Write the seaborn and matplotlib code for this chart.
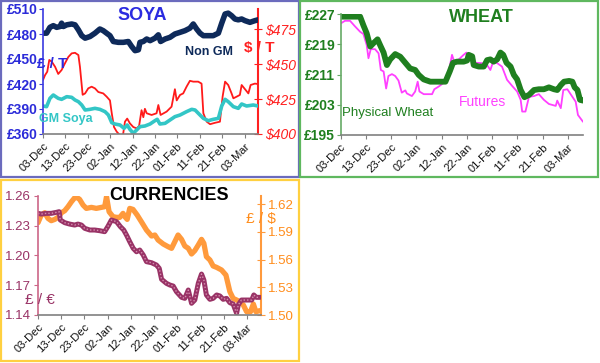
import matplotlib
matplotlib.use("Agg")
import matplotlib.pyplot as plt
from matplotlib.patches import Rectangle
import seaborn as sns

sns.set_style("white")
plt.rcParams['font.family'] = ['Liberation Sans', 'DejaVu Sans']

# ---------------- data ----------------
date_ticks = [0, 10, 20, 30, 40, 50, 60, 70, 80, 90]
date_labels = ["03-Dec", "13-Dec", "23-Dec", "02-Jan", "12-Jan",
               "22-Jan", "01-Feb", "11-Feb", "21-Feb", "03-Mar"]

# SOYA  (days after 03-Dec)
nongm_days = [0, 1.6, 3.1, 4.6, 6.1, 7.6, 8.3, 9.1, 10.6, 12.8,
              14.3, 15.8, 17.3, 18.8, 21.0, 23.2, 25.4, 26.9, 28.4, 29.9,
              31.4, 33.6, 35.9, 38.1, 39.6, 41.1, 42.6, 43.3, 44.8, 46.3,
              47.8, 50.0, 51.5, 52.5, 54.5, 56.7, 58.9, 61.2, 63.4, 65.6,
              67.1, 68.6, 70.1, 71.6, 73.8, 76.0, 78.3, 79.8, 81.3, 82.7,
              84.2, 85.7, 87.2, 88.7, 90.2, 92.4, 94.6, 96]
nongm_gbp = [481, 481, 488, 490, 488, 489, 493, 489, 491, 492,
             491, 485, 478, 475, 477, 481, 486, 484, 481, 478,
             471, 470, 470, 471, 465, 460, 461, 470, 471, 474,
             472, 475, 479, 471, 474, 476, 480, 482, 484, 487,
             492, 486, 481, 478, 478, 478, 481, 493, 504, 505,
             502, 498, 497, 498, 496, 494, 496, 497]

usd_days = [0, 0.9, 1.9, 2.8, 3.9, 5.4, 6.8, 8.3, 9.8, 11.3,
            12.8, 14.3, 15.8, 16.5, 17.7, 18.8, 20.2, 21.7, 23.2, 24.7,
            26.9, 28.4, 29.9, 30.7, 31.7, 32.9, 34.4, 35.6, 36.6, 37.6,
            38.8, 40.3, 41.8, 42.9, 44.0, 44.8, 45.5, 46.3, 48.5, 50.7,
            51.5, 52.5, 55.2, 57.4, 58.9, 59.7, 61.2, 62.6, 64.1, 65.6,
            67.1, 69.3, 70.8, 71.6, 73.1, 74.6, 76.8, 79.0, 80.2, 81.3,
            82.7, 84.2, 85.0, 86.5, 87.9, 88.7, 90.2, 91.7, 92.7, 94.6, 96.0]
usd_per_t = [438.6, 442, 444.5, 452.9, 451.7, 448, 442.9, 445.7, 450.5, 455,
             457.6, 458, 456.4, 448, 428, 429, 432.6, 433.8, 432.6, 430,
             429, 426.7, 424, 414.8, 405, 401.7, 399, 398, 408.8, 411,
             407.6, 405, 404, 405.7, 417, 412, 418, 414.8, 413.6, 414.8,
             420.7, 413.6, 416, 419.5, 432, 424, 427.9, 429, 433.8, 438,
             437.4, 437.4, 436, 414.8, 408.8, 407, 408, 408.8, 426.7, 437.4,
             435, 429, 425.5, 426.7, 427.9, 435, 432, 429, 435, 436, 435.7]

gm_days = [0, 1.6, 3.1, 4.6, 6.8, 8.3, 10.6, 12.8, 14.3, 15.8,
           17.3, 18.8, 21.0, 23.2, 25.4, 27.7, 29.2, 30.7, 32.1, 34.4,
           36.2, 37.6, 38.8, 40.3, 41.8, 43.3, 45.5, 47.8, 50.0, 51.0,
           52.2, 54.5, 56.7, 58.9, 61.2, 64.1, 66.4, 67.9, 70.1, 71.6,
           73.8, 76.0, 78.3, 79.8, 81.3, 82.7, 85.0, 87.2, 88.7, 90.9,
           93.9, 96.0]
gm_gbp = [393.6, 392.8, 402.8, 406.8, 402.8, 401.6, 404.8, 404, 400.8, 398.8,
          394.8, 388.8, 389.6, 390.8, 389.6, 386.8, 382.8, 373.6, 372, 370.8,
          366.8, 370.8, 365.6, 360.8, 364.8, 368.8, 369.6, 372, 376, 377.6,
          372, 372.8, 376.8, 380.8, 382.8, 386.8, 389.6, 388.8, 382.8, 378.8,
          376, 377.6, 378.8, 393.6, 401.6, 398.8, 392.8, 390.8, 396, 393.6,
          394.8, 393.6]

# WHEAT
phys_days = [0, 3.7, 7.7, 9.0, 10.3, 11.7, 13.0, 14.6, 15.6, 17.0,
             18.3, 19.6, 21.6, 23.6, 25.6, 27.5, 29.5, 30.9, 32.9, 35.5,
             38.1, 41.5, 43.2, 44.5, 46.1, 48.7, 50.1, 50.7, 52.1, 52.7,
             54.7, 56.7, 58.0, 59.3, 60.6, 62.0, 63.3, 64.4, 65.7, 67.3,
             68.6, 69.9, 71.3, 72.8, 74.6, 76.6, 78.5, 80.5, 82.5, 84.5,
             85.8, 87.2, 88.5, 90.5, 91.8, 92.7, 93.8, 94.8, 96]
phys_wheat = [226.3, 226.3, 226.3, 224, 221.9, 218.4, 219.3, 220.3, 218.8, 216.8,
              213.5, 215, 216.4, 215.7, 214.1, 212.6, 212.2, 210.9, 209.7, 209.1,
              209.1, 209.1, 211.8, 214.1, 214.4, 214.4, 214.7, 216.2, 215.8, 213.5,
              213.1, 213.1, 214.8, 215, 214.4, 215, 216.8, 216.2, 214.1, 213.1,
              210.9, 209.7, 206.9, 205, 205.6, 206.9, 207.1, 207.1, 207.6, 207.1,
              206.9, 208.2, 209.1, 209.3, 209.1, 207.6, 206.9, 204.3, 204.1]

fut_days = [0, 1.7, 3.7, 5.7, 7.7, 9.0, 10.3, 11.0, 11.9, 13.6,
            15.0, 15.9, 17.0, 18.0, 18.9, 20.3, 21.6, 22.9, 24.2, 25.6,
            26.2, 28.2, 29.5, 30.5, 31.2, 32.9, 36.2, 37.1, 38.8, 40.8,
            42.1, 43.2, 44.1, 45.0, 46.8, 48.7, 49.8, 51.4, 53.4, 56.0,
            58.0, 59.3, 60.4, 62.0, 63.9, 65.9, 67.9, 69.9, 71.3, 71.9,
            73.2, 74.6, 76.6, 78.5, 80.5, 82.5, 85.2, 85.8, 87.2, 88.2,
            89.8, 91.8, 93.1, 94.0, 96.0]
futures = [224.5, 225.2, 225.2, 223.7, 222.3, 221.7, 218.8, 215.3, 217.7, 217.7,
           216.6, 212.2, 211.8, 207.3, 210.6, 211.1, 210.6, 209.4, 206.2, 206.8,
           206, 205.3, 206.5, 209.1, 206.5, 205.8, 205.8, 207.1, 207.8, 208.8,
           210.4, 213.1, 216.2, 214.4, 215, 216.2, 216.8, 215, 214.1, 214,
           213.5, 212.2, 214.4, 214, 213.1, 209.6, 208, 206.5, 204.3, 201.2,
           201.2, 205.1, 205.3, 205.8, 204.3, 203.2, 202.7, 204.1, 202.1, 206.9,
           207.1, 205.1, 203.8, 200.3, 198.5]

# CURRENCIES
eur_days = [0, 1.4, 3.6, 5.7, 7.9, 9.1, 9.6, 11.5, 13.6, 15.8,
            17.2, 18.7, 20.1, 22.3, 24.4, 26.6, 28.7, 30.2, 31.6, 33.8,
            35.5, 36.9, 38.1, 39.5, 41.0, 42.4, 43.8, 45.3, 46.7, 48.9,
            51.0, 52.2, 53.2, 55.3, 56.8, 58.2, 59.6, 61.8, 63.2, 64.7,
            66.1, 67.5, 69.0, 70.4, 71.4, 72.5, 74.0, 75.4, 76.9, 78.3,
            79.7, 81.2, 82.6, 84.0, 85.5, 86.2, 87.6, 89.8, 92.0, 92.9,
            94.0, 95.5]
gbp_eur = [1.2425, 1.2418, 1.2425, 1.2425, 1.2435, 1.2442, 1.2358, 1.2331, 1.2317, 1.2307,
           1.2317, 1.2307, 1.2274, 1.2257, 1.2257, 1.225, 1.224, 1.2297, 1.2358, 1.2341,
           1.229, 1.2257, 1.2206, 1.2139, 1.2072, 1.2038, 1.2055, 1.2005, 1.1938, 1.1927,
           1.1904, 1.187, 1.176, 1.1719, 1.1702, 1.1692, 1.1635, 1.1578, 1.1568, 1.1652,
           1.1518, 1.1551, 1.1719, 1.1813, 1.1753, 1.1602, 1.1558, 1.1568, 1.1602, 1.1592,
           1.1558, 1.1568, 1.1524, 1.1511, 1.1417, 1.1501, 1.1551, 1.1551, 1.1551, 1.1602,
           1.1578, 1.1578]

usd_fx_days = [0, 1.4, 2.9, 4.3, 5.7, 7.2, 8.6, 10.1, 11.5, 12.9,
               14.4, 16.2, 17.9, 19.4, 20.8, 23.0, 25.1, 27.3, 28.7, 29.5,
               30.6, 32.3, 33.8, 35.2, 36.6, 37.4, 38.4, 39.5, 40.9, 42.7,
               44.5, 46.7, 48.9, 50.3, 51.7, 53.9, 56.0, 57.5, 58.9, 60.3,
               61.8, 63.2, 64.7, 66.1, 67.5, 69.0, 70.4, 71.4, 72.5, 74.0,
               75.4, 76.9, 79.0, 80.9, 82.6, 84.0, 85.5, 86.9, 88.4, 89.8,
               91.5, 92.7, 93.8, 95.5]
gbp_usd = [1.5998, 1.6081, 1.6106, 1.6045, 1.602, 1.6034, 1.6056, 1.6106, 1.6128, 1.6171,
           1.6225, 1.628, 1.6251, 1.6189, 1.6153, 1.6164, 1.6153, 1.6164, 1.6171, 1.628,
           1.6117, 1.6063, 1.6056, 1.6056, 1.6099, 1.6063, 1.6034, 1.6153, 1.6142, 1.6081,
           1.6009, 1.5919, 1.5854, 1.5865, 1.5811, 1.5768, 1.5739, 1.5721, 1.5793, 1.5865,
           1.5818, 1.5746, 1.5721, 1.566, 1.5696, 1.5757, 1.5818, 1.5775, 1.5631, 1.5595,
           1.553, 1.5515, 1.5487, 1.5432, 1.5252, 1.518, 1.5162, 1.5144, 1.5108, 1.5036,
           1.5036, 1.5119, 1.5036, 1.5047]

soya_left_ticks = [360, 390, 420, 450, 480, 510]
soya_right_ticks = [400, 425, 450, 475]
wheat_ticks = [195, 203, 211, 219, 227]
eur_ticks = [1.14, 1.17, 1.20, 1.23, 1.26]
usd_ticks = [1.50, 1.53, 1.56, 1.59, 1.62]

# ---------------- figure ----------------
W, H = 600, 363
fig = plt.figure(figsize=(6.0, 3.63), dpi=100)
fig.patch.set_facecolor("white")


def px_axes(x0, y0, x1, y1):
    return fig.add_axes([x0 / W, 1 - y1 / H, (x1 - x0) / W, (y1 - y0) / H])


def ftext(x, y, s, **kw):
    fig.text(x / W, 1 - y / H, s, ha="center", va="center", **kw)


def box(x0, y0, x1, y1, color):
    fig.add_artist(Rectangle((x0 / W, 1 - y1 / H), (x1 - x0) / W, (y1 - y0) / H,
                             transform=fig.transFigure, fill=False,
                             edgecolor=color, linewidth=1.6))


def style_dates(ax):
    ax.set_xlim(0, 96)
    ax.set_xticks(date_ticks)
    ax.set_xticklabels(date_labels, rotation=45, ha="right",
                       rotation_mode="anchor", fontsize=8, color="#111111")
    ax.tick_params(axis="x", direction="out", length=3, color="#808080",
                   bottom=True, pad=2)
    ax.spines["bottom"].set_color("#808080")
    ax.spines["bottom"].set_linewidth(1.2)
    ax.spines["top"].set_visible(False)
    ax.set_xlabel("")
    ax.set_ylabel("")


# ---- SOYA ----
box(0.8, 0.8, 299, 177, "#6b6bbd")
ax = px_axes(43, 9, 258, 134)
ax.set_facecolor("none")
sns.lineplot(x=gm_days, y=gm_gbp, ax=ax, color="#33c6c6", linewidth=2.6)
sns.lineplot(x=nongm_days, y=nongm_gbp, ax=ax, color="#0e2a5a", linewidth=4.0)
ax.set_ylim(360, 510)
ax.set_yticks(soya_left_ticks)
ax.set_yticklabels([f"£{v}" for v in soya_left_ticks], fontsize=10,
                   fontweight="bold", color="#2b2bd9")
ax.tick_params(axis="y", direction="out", length=3, color="#3a3ae0", left=True, pad=1)
ax.spines["left"].set_color("#3a3ae0")
ax.spines["left"].set_linewidth(1.2)
ax.spines["right"].set_visible(False)
style_dates(ax)
ax2 = ax.twinx()
sns.lineplot(x=usd_days, y=usd_per_t, ax=ax2, color="#ff1a1a", linewidth=1.3)
ax2.set_ylim(400, 489.3)
ax2.set_yticks(soya_right_ticks)
ax2.set_yticklabels([f"${v}" for v in soya_right_ticks], fontsize=10,
                    fontstyle="italic", color="#ff2020")
ax2.tick_params(axis="y", direction="inout", length=6, color="#ff2020", right=True, pad=2)
for s in ["left", "top", "bottom"]:
    ax2.spines[s].set_visible(False)
ax2.spines["right"].set_color("#ff2020")
ax2.spines["right"].set_linewidth(1.5)
ax2.set_ylabel("")
ax.set_zorder(ax2.get_zorder() + 1)

ftext(142, 15, "SOYA", fontsize=13, fontweight="bold", color="#2b2be0")
ftext(209, 52, "Non GM", fontsize=9, fontweight="bold", color="#0e2a5a")
ftext(66, 119, "GM Soya", fontsize=9, fontweight="bold", color="#33c6c6")
ftext(259, 48, "$ / T", fontsize=11, fontweight="bold", color="#ff2020")
ftext(52, 64, "£ / T", fontsize=11, fontweight="bold", color="#2b2be0")

# ---- WHEAT ----
box(300, 0.8, 598, 177, "#5fb85f")
axw = px_axes(340.7, 14, 583, 135)
sns.lineplot(x=fut_days, y=futures, ax=axw, color="#ff40ff", linewidth=1.3)
sns.lineplot(x=phys_days, y=phys_wheat, ax=axw, color="#1f7f1f", linewidth=4.2)
axw.set_ylim(195, 227)
axw.set_yticks(wheat_ticks)
axw.set_yticklabels([f"£{v}" for v in wheat_ticks], fontsize=10,
                    fontweight="bold", color="#1f7f1f")
axw.tick_params(axis="y", direction="out", length=3, color="#66aa66", left=True, pad=1)
axw.spines["left"].set_color("#66aa66")
axw.spines["left"].set_linewidth(1.2)
axw.spines["right"].set_visible(False)
style_dates(axw)

ftext(481, 17, "WHEAT", fontsize=13, fontweight="bold", color="#1f7f1f")
ftext(388, 113, "Physical Wheat", fontsize=9.5, color="#1f7f1f")
ftext(482, 102, "Futures", fontsize=10, color="#ff40ff")

# ---- CURRENCIES ----
box(0.8, 180, 299, 361, "#ffd040")
axc = px_axes(38, 196, 261, 315)
axc.set_facecolor("none")
sns.lineplot(x=eur_days, y=gbp_eur, ax=axc, color="#993366", linewidth=3.6)
sns.lineplot(x=eur_days, y=gbp_eur, ax=axc, color="#d68fb0", linewidth=1.0,
             linestyle=(0, (1, 1.5)))
axc.set_ylim(1.14, 1.26)
axc.set_yticks(eur_ticks)
axc.set_yticklabels([f"{v:.2f}" for v in eur_ticks], fontsize=9.5, color="#993366")
axc.tick_params(axis="y", direction="out", length=3, color="#cc6688", left=True, pad=2)
axc.spines["left"].set_color("#cc6688")
axc.spines["left"].set_linewidth(1.2)
axc.spines["right"].set_visible(False)
style_dates(axc)
axc2 = axc.twinx()
sns.lineplot(x=usd_fx_days, y=gbp_usd, ax=axc2, color="#ff9a3c", linewidth=3.8)
axc2.set_ylim(1.50, 1.6287)
axc2.set_yticks(usd_ticks)
axc2.set_yticklabels([f"{v:.2f}" for v in usd_ticks], fontsize=9.5, color="#ff8c1a")
axc2.tick_params(axis="y", direction="inout", length=6, color="#ff9a3c", right=True, pad=2)
for s in ["left", "top", "bottom"]:
    axc2.spines[s].set_visible(False)
axc2.spines["right"].set_color("#ff9a3c")
axc2.spines["right"].set_linewidth(1.5)
axc2.set_ylabel("")
axc.set_zorder(axc2.get_zorder() + 1)

ftext(169, 195, "CURRENCIES", fontsize=13, fontweight="bold", color="black")
ftext(261, 219, "£ / $", fontsize=11, color="#ff8c1a")
ftext(40, 300, "£ / €", fontsize=11, color="#993366")

fig.savefig("out.png", dpi=100, facecolor="white")
